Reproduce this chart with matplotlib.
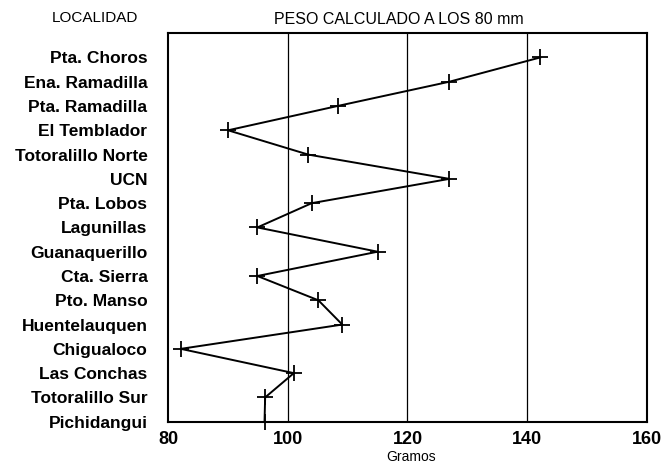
import numpy as np
import matplotlib
matplotlib.use('Agg')
from matplotlib import pyplot as plt

# localidades de norte (arriba) a sur (abajo)
localidades = ['Pta. Choros', 'Ena. Ramadilla', 'Pta. Ramadilla', 'El Temblador',
               'Totoralillo Norte', 'UCN', 'Pta. Lobos', 'Lagunillas',
               'Guanaquerillo', 'Cta. Sierra', 'Pto. Manso', 'Huentelauquen',
               'Chigualoco', 'Las Conchas', 'Totoralillo Sur', 'Pichidangui']
peso = [142.2, 127.0, 108.3, 90.0, 103.4, 127.0, 104.0, 94.9,
        115.0, 94.9, 105.1, 109.1, 82.1, 101.0, 96.2, 96.1]
x_ticks = [80, 100, 120, 140, 160]

plt.rcParams['font.family'] = ['Liberation Sans', 'DejaVu Sans']

fig = plt.figure(figsize=(6.65, 4.67), dpi=100)
ax = fig.add_axes([0.253, 0.097, 0.7195, 0.832])

n = len(localidades)
y = np.arange(n)[::-1]

ax.plot(peso, y, color='black', lw=1.4, marker='+', markersize=11,
        markeredgewidth=1.3, clip_on=False, zorder=3)

for gx in x_ticks[1:-1]:
    ax.axvline(gx, color='black', lw=0.9, zorder=1)

ax.set_xlim(80, 160)
ax.set_ylim(0, n)
ax.set_xticks(x_ticks)
ax.set_xticklabels([str(v) for v in x_ticks], fontsize=13, fontweight='bold')
ax.set_yticks(y)
ax.set_yticklabels(localidades, fontsize=12.5, fontweight='bold')
ax.tick_params(axis='y', length=0, pad=15)
ax.tick_params(axis='x', length=0, pad=7)
for s in ax.spines.values():
    s.set_linewidth(1.5)

fig.text(0.6, 0.958, 'PESO CALCULADO A LOS 80 mm', ha='center', va='center',
         fontsize=11.5)
fig.text(0.143, 0.962, 'LOCALIDAD', ha='center', va='center', fontsize=11)
fig.text(0.618, 0.022, 'Gramos', ha='center', va='center', fontsize=10)

fig.savefig('out.png', dpi=100)
